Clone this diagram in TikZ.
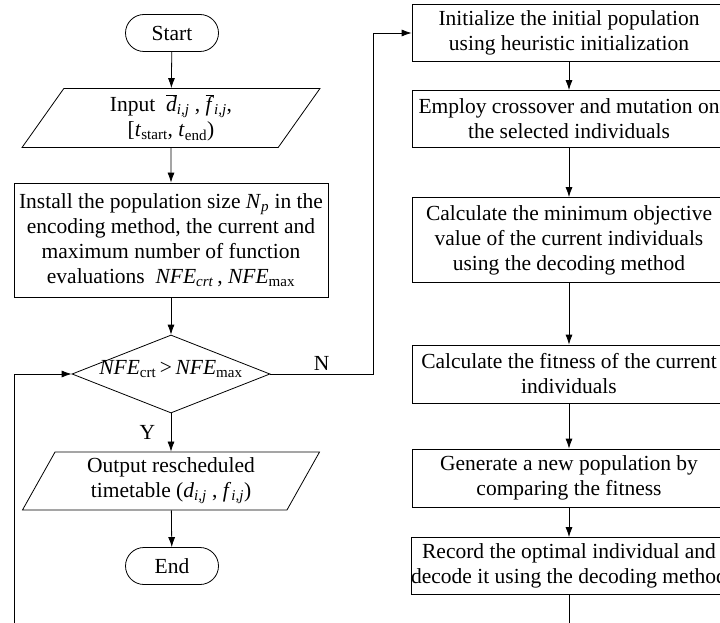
\documentclass[tikz,border=0pt]{standalone}
\usepackage{fontspec}
\setmainfont{Liberation Serif}
\usetikzlibrary{arrows,arrows.meta,shapes.geometric,shapes.misc}
\tikzset{pb/.append style={draw,rectangle,minimum width=314pt,inner xsep=0pt,inner ysep=2pt,align=center}}
\tikzset{io/.append style={draw,trapezium,trapezium left angle=63,trapezium right angle=117,trapezium stretches=true,minimum width=298pt,minimum height=59pt,inner sep=0pt,align=center}}
\tikzset{tm/.append style={draw,rounded rectangle,minimum width=97pt,minimum height=37pt,inner sep=2pt}}
\tikzset{dc/.append style={draw,diamond,minimum width=198pt,minimum height=78pt,inner sep=0pt}}
\tikzset{ar/.append style={-{Latex[length=10pt,width=7pt]}}}
\newcommand{\subij}{\textsubscript{\textit{i,j}}}
\begin{document}
\begin{tikzpicture}[x=1pt,y=-1pt,font=\fontsize{21.5}{25}\selectfont,line width=0.8pt]
                \useasboundingbox (0,0) rectangle (720,623);
                \clip (0,0) rectangle (720,623);
                % left column
                \node[tm] (start) at (172,33) {Start};
                \node[io] (inp) at (171,118) {Input ~$\overline{\mbox{\textit{d}}}$\subij\ , $\overline{\mbox{\textit{f}}}$\subij,\\ {[}\textit{t}\textsubscript{start}, \textit{t}\textsubscript{end})};
                \node[pb,minimum height=114pt] (inst) at (171,240) {Install the population size \textit{N}\textsubscript{\textit{p}} in the\\ encoding method, the current and\\ maximum number of function\\ evaluations ~\textit{NFE}\textsubscript{\textit{crt}}\,, \textit{NFE}\textsubscript{max}};
                \node[dc] (cond) at (171,374) {\smash{\makebox[0pt]{\textit{NFE}\textsubscript{crt}\,>\,\textit{NFE}\textsubscript{max}}}};
                \node[io,minimum height=58pt] (outp) at (171,481) {Output rescheduled\\ timetable (\textit{d}\subij\ , \textit{f}\subij)};
                \node[tm] (stop) at (172,566) {End};
                % right column
                \node[pb,minimum height=57pt] (r1) at (569,33) {Initialize the initial population\\ using heuristic initialization};
                \node[pb,minimum height=57pt] (r2) at (569,119) {Employ crossover and mutation on\\ the selected individuals};
                \node[pb,minimum height=85pt] (r3) at (569,240) {Calculate the minimum objective\\ value of the current individuals\\ using the decoding method};
                \node[pb,minimum height=58pt] (r4) at (569,374) {Calculate the fitness of the current\\ individuals};
                \node[pb,minimum height=58pt] (r5) at (569,478) {Generate a new population by\\ comparing the fitness};
                \node[pb,minimum height=57pt] (r6) at (569,566) {Record the optimal individual and\\ decode it using the decoding method};
                \coordinate (nturn) at (373,374);
                \coordinate (lb) at (569,650);
                \coordinate (ll) at (14,650);
                \draw[ar] (start) -- (inp);
                \draw[ar] (inp) -- (inst);
                \draw[ar] (inst) -- (cond);
                \draw[ar] (cond) -- node[left=12pt]{Y} (outp);
                \draw[ar] (outp) -- (stop);
                \draw[ar] (cond.east) -- node[above]{N} (nturn) |- (r1.west);
                \draw[ar] (r1) -- (r2);
                \draw[ar] (r2) -- (r3);
                \draw[ar] (r3) -- (r4);
                \draw[ar] (r4) -- (r5);
                \draw[ar] (r5) -- (r6);
                \draw[ar] (r6) -- (lb) -- (ll) |- (cond.west);
            \end{tikzpicture}
\end{document}
